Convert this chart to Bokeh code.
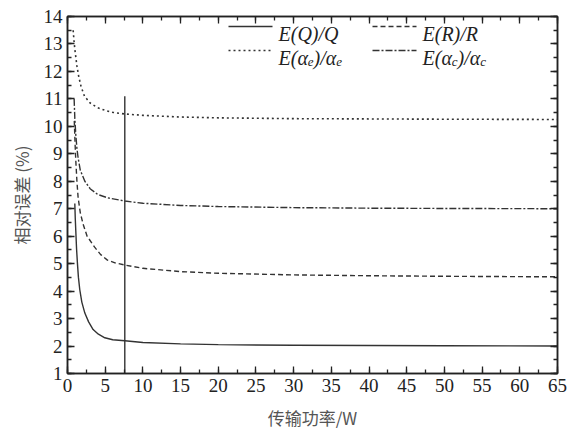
from bokeh.plotting import figure
from bokeh.models import (Range1d, LinearAxis, SingleIntervalTicker, Label, Arrow)
from bokeh.embed import file_html
from bokeh.resources import INLINE

# ---- data ----
q_x = [0.97, 1.03, 1.1, 1.2, 1.32, 1.45, 1.63, 1.9, 2.3, 2.8, 3.4, 4.1, 4.95, 6.0, 7.6, 10, 15, 20, 30, 40, 50, 65]
q_y = [7.19, 6.65, 6.2, 5.55, 5.0, 4.5, 4.05, 3.6, 3.2, 2.88, 2.6, 2.43, 2.3, 2.23, 2.19, 2.13, 2.08, 2.05, 2.03, 2.02, 2.01, 2.0]

r_x = [0.9, 1.0, 1.1, 1.25, 1.41, 1.7, 2.07, 2.6, 3.6, 4.4, 5.3, 6.3, 7.6, 10, 15, 20, 30, 40, 50, 65]
r_y = [10.2, 9.4, 8.75, 8.0, 7.4, 6.85, 6.44, 6.0, 5.6, 5.33, 5.13, 5.03, 4.95, 4.83, 4.71, 4.65, 4.59, 4.56, 4.54, 4.52]

ae_x = [0.75, 0.9, 1.0, 1.25, 1.5, 1.8, 2.25, 3.0, 4.0, 5.0, 6.0, 7.6, 10, 15, 20, 30, 40, 50, 65]
ae_y = [13.5, 13.0, 12.75, 12.2, 11.8, 11.45, 11.1, 10.85, 10.68, 10.58, 10.51, 10.45, 10.4, 10.34, 10.31, 10.28, 10.27, 10.26, 10.25]

ac_x = [0.88, 0.97, 1.1, 1.25, 1.41, 1.7, 2.3, 3.0, 4.0, 5.3, 7.6, 10, 15, 20, 30, 40, 50, 65]
ac_y = [11.0, 10.3, 9.7, 9.2, 8.85, 8.4, 8.0, 7.73, 7.52, 7.4, 7.28, 7.2, 7.12, 7.08, 7.04, 7.02, 7.01, 7.0]

marker_x = 7.6        # vertical reference line position (W)
marker_top = 11.1     # its top (%)

x_label = "传输功率/W"
y_label = "相对误差 (%)"

# legend entries: list of (text, is_subscript) pieces
legend_q = [("E(Q)/Q", False)]
legend_r = [("E(R)/R", False)]
legend_ae = [("E(α", False), ("e", True), (")/α", False), ("e", True)]
legend_ac = [("E(α", False), ("c", True), (")/α", False), ("c", True)]

INK = "#222222"
LINE = "#333333"
SERIF = "Liberation Serif"

p = figure(width=576, height=432, output_backend="svg", toolbar_location=None,
           x_range=Range1d(0, 65), y_range=Range1d(1, 14),
           min_border_left=67, min_border_right=19, min_border_top=16, min_border_bottom=54,
           background_fill_color="white", border_fill_color="white")
p.grid.visible = False
p.outline_line_color = INK
p.outline_line_width = 1.5

p.xaxis.ticker = SingleIntervalTicker(interval=5, num_minor_ticks=2)
p.yaxis.ticker = SingleIntervalTicker(interval=1, num_minor_ticks=2)

for ax in (p.xaxis[0], p.yaxis[0]):
    ax.axis_line_color = INK
    ax.axis_line_width = 1.5
    ax.major_tick_in = 7
    ax.major_tick_out = 0
    ax.minor_tick_in = 4
    ax.minor_tick_out = 0
    ax.major_tick_line_color = INK
    ax.minor_tick_line_color = INK
    ax.major_tick_line_width = 1.3
    ax.minor_tick_line_width = 1.3
    ax.major_label_text_font = SERIF
    ax.major_label_text_font_size = "19px"
    ax.major_label_text_color = INK
    ax.axis_label_text_font = "Noto Sans CJK SC"
    ax.axis_label_text_font_size = "17px"
    ax.axis_label_text_font_style = "normal"
    ax.axis_label_text_color = "#555555"

p.xaxis.axis_label = x_label
p.yaxis.axis_label = y_label
p.xaxis.major_label_standoff = 5
p.xaxis.axis_label_standoff = 10
p.yaxis.major_label_standoff = 5
p.yaxis.axis_label_standoff = 7

for loc, interval in (("above", 5), ("right", 1)):
    ax = LinearAxis(ticker=SingleIntervalTicker(interval=interval, num_minor_ticks=2),
                    major_label_text_font_size="0px", major_label_standoff=0,
                    axis_line_color=INK, axis_line_width=1.5,
                    major_tick_in=7, major_tick_out=0, minor_tick_in=4, minor_tick_out=0,
                    major_tick_line_color=INK, minor_tick_line_color=INK,
                    major_tick_line_width=1.3, minor_tick_line_width=1.3)
    p.add_layout(ax, loc)

# curves
p.line(q_x, q_y, line_color=LINE, line_width=1.4)
p.line(r_x, r_y, line_color=LINE, line_width=1.4, line_dash="5 3")
p.line(ae_x, ae_y, line_color=LINE, line_width=1.6, line_dash="2 3")
p.line(ac_x, ac_y, line_color=LINE, line_width=1.4, line_dash="7 2 2 2")

# vertical marker
p.segment(x0=[marker_x], y0=[1], x1=[marker_x], y1=[marker_top], line_color=LINE, line_width=1.4)

# ---- legend drawn manually (to allow subscripts) ----
W = {"E": 0.611, "(": 0.333, ")": 0.333, "/": 0.278, "Q": 0.722, "R": 0.611,
     "e": 0.444, "c": 0.444, "α": 0.52}

def text_width(s, size):
    return sum(W.get(ch, 0.5) for ch in s) * size

def add_entry(x_line, y_mid, dash, width, parts):
    p.add_layout(Arrow(end=None, x_start=x_line, y_start=y_mid, x_end=x_line + 44, y_end=y_mid,
                       start_units="screen", end_units="screen",
                       line_color=LINE, line_width=width, line_dash=dash))
    x = x_line + 50
    base = y_mid - 7
    for txt, sub in parts:
        size = 13 if sub else 20
        yy = base - 4 if sub else base
        p.add_layout(Label(x=x, y=yy, x_units="screen", y_units="screen", text=txt,
                           text_font=SERIF, text_font_style="italic",
                           text_font_size=f"{size}px", text_baseline="alphabetic",
                           text_color=INK))
        x += text_width(txt, size)

add_entry(161, 347, "solid", 1.4, legend_q)
add_entry(305, 347, "5 3", 1.4, legend_r)
add_entry(161, 323, "2 3", 1.6, legend_ae)
add_entry(305, 323, "7 2 2 2", 1.4, legend_ac)

open("out.html", "w").write(file_html(p, INLINE))
